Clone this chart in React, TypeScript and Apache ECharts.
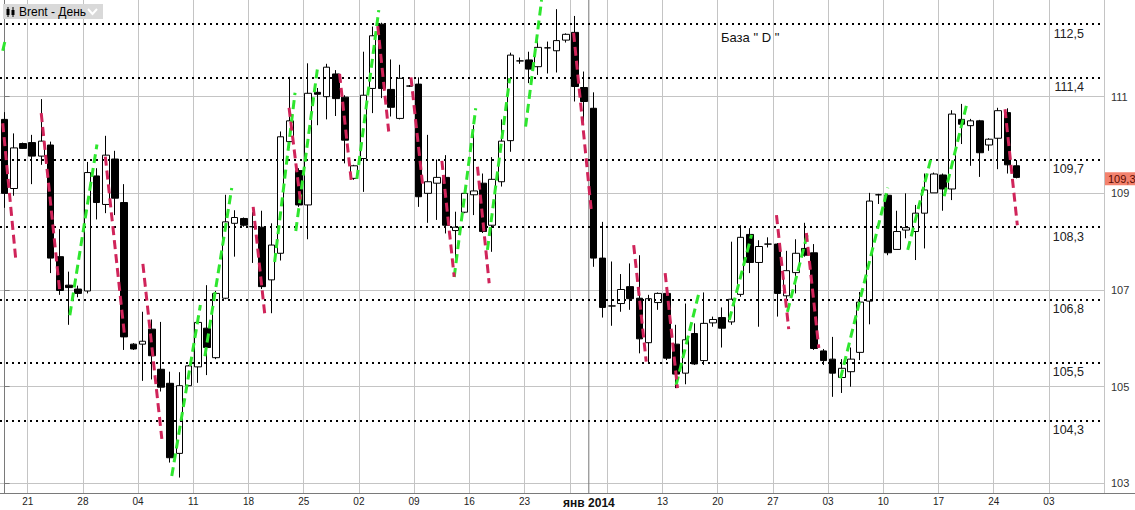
import React, { useEffect, useRef } from "react";
import * as echarts from "echarts";

// ---- slots (one per trading session) ----
const SLOT_COUNT = 120;
const Y_MIN = 102.79;
const Y_MAX = 113.0;

// week grid lines (slot where a new week / month begins)
const gridSlots = [3, 9, 15, 21, 27, 33, 39, 45, 51, 57, 62, 66, 72, 78, 84, 90, 96, 102, 108, 114];
const monthSlot = 64;
const tickSlots = [3, 9, 15, 21, 27, 33, 39, 45, 51, 57, 64, 72, 78, 84, 90, 96, 102, 108, 114];
const tickLabels = ["21", "28", "04", "11", "18", "25", "02", "09", "16", "23", "янв 2014", "13", "20", "27", "03", "10", "17", "24", "03"];

const yTicks = [103, 105, 107, 109, 111];

// ---- OHLC ----
const opens = [
  110.53, 109.10, 110.03, 110.05, 109.77, 110.00, 107.69, 107.10, 107.02, 106.98,
  109.36, 108.77, 109.71, 108.81, 105.88, 105.88, 106.19, 105.36, 105.07, 103.62,
  105.02, 105.41, 106.21, 105.60, 106.83, 108.38, 108.48, 108.31, 108.30, 107.21,
  107.76, 110.07, 109.47, 108.76, 111.09, 111.00, 111.47, 110.99, 109.31, 109.72,
  111.17, 112.50, 111.15, 110.55, 111.22, 111.26, 109.00, 109.21, 109.33, 108.23,
  108.61, 108.97, 109.21, 108.34, 109.24, 110.09, 111.74, 111.76, 111.62, 112.01,
  111.95, 112.17, 112.33, 111.19, 110.76, 107.66, 106.67, 106.72, 107.07, 106.83,
  105.91, 106.74, 106.93, 105.88, 105.28, 106.10, 105.54, 106.32, 106.43, 106.34,
  106.91, 108.15, 107.57, 107.95, 107.95, 106.88, 107.36, 107.86, 107.77, 105.74,
  105.57, 105.19, 105.31, 105.71, 106.77, 108.97, 108.96, 107.84, 108.24, 108.21,
  108.59, 109.01, 109.38, 109.09, 110.53, 110.40, 110.50, 110.00, 110.14, 110.67,
  109.57,
];
const closes = [
  109.00, 109.94, 109.93, 109.77, 110.08, 107.66, 106.99, 107.05, 106.93, 109.43,
  108.81, 109.79, 108.90, 106.03, 105.78, 105.94, 105.64, 104.99, 103.53, 105.02,
  105.43, 106.33, 105.81, 106.93, 108.41, 108.50, 108.34, 108.31, 107.07, 107.93,
  110.17, 110.50, 108.76, 111.07, 111.05, 111.61, 110.96, 110.10, 109.57, 111.03,
  112.26, 111.17, 110.78, 111.38, 111.22, 108.93, 109.24, 109.33, 108.34, 108.30,
  109.00, 109.05, 108.21, 109.29, 110.08, 111.86, 111.74, 111.57, 112.02, 112.01,
  112.16, 112.29, 111.21, 110.90, 107.66, 106.64, 106.67, 107.01, 106.82, 105.99,
  106.82, 106.93, 105.59, 105.26, 105.97, 105.47, 106.31, 106.39, 106.21, 106.81,
  108.09, 107.57, 107.90, 107.95, 106.93, 107.40, 107.76, 107.72, 105.79, 105.54,
  105.28, 105.38, 105.57, 106.75, 108.84, 108.97, 107.77, 108.21, 108.29, 108.59,
  109.07, 109.40, 109.09, 110.64, 110.43, 110.50, 109.84, 110.12, 110.71, 109.59,
  109.33,
];
const lows = [
  108.70, 108.95, 109.92, 109.19, 109.59, 107.35, 106.90, 106.28, 106.85, 106.93,
  108.46, 108.59, 108.55, 105.76, 105.76, 105.12, 105.15, 104.90, 103.43, 103.12,
  105.01, 105.08, 105.24, 105.57, 106.81, 107.69, 108.31, 107.56, 107.02, 106.52,
  107.61, 109.94, 108.72, 108.05, 110.41, 110.53, 110.60, 109.62, 109.28, 109.03,
  110.66, 110.97, 110.59, 110.53, 111.20, 108.72, 108.39, 108.45, 108.17, 107.62,
  108.59, 108.55, 108.18, 107.79, 109.14, 109.86, 111.68, 111.28, 111.45, 111.48,
  111.50, 112.12, 110.90, 110.41, 107.48, 106.43, 106.26, 106.55, 106.59, 105.69,
  105.50, 106.59, 105.55, 104.97, 105.05, 105.45, 105.45, 106.24, 105.81, 106.28,
  106.86, 107.35, 106.24, 107.88, 106.45, 106.79, 106.93, 107.69, 105.76, 105.45,
  104.79, 104.87, 105.00, 105.55, 106.29, 108.78, 107.72, 107.84, 108.07, 107.62,
  107.86, 109.01, 108.64, 108.86, 110.02, 109.57, 109.34, 109.88, 109.50, 109.41,
  109.31,
];
const highs = [
  110.68, 110.24, 110.05, 110.21, 110.95, 110.07, 108.26, 107.38, 107.09, 109.65,
  109.52, 110.19, 109.88, 109.19, 105.90, 106.55, 106.39, 106.34, 105.31, 105.30,
  105.45, 106.42, 107.10, 106.98, 108.97, 108.65, 108.50, 108.61, 108.64, 108.38,
  110.28, 111.41, 109.52, 111.69, 111.18, 111.68, 111.55, 111.03, 109.59, 111.93,
  112.45, 112.53, 111.77, 111.66, 111.24, 111.40, 110.21, 109.70, 109.79, 108.62,
  109.03, 110.41, 109.41, 109.75, 110.53, 111.91, 111.81, 111.93, 112.17, 112.14,
  112.81, 112.31, 112.67, 111.52, 111.09, 108.41, 107.59, 107.33, 107.55, 107.72,
  106.90, 106.95, 106.95, 106.28, 106.72, 106.31, 106.95, 106.45, 106.64, 108.00,
  108.34, 108.28, 108.03, 108.09, 107.97, 107.81, 108.05, 108.39, 107.95, 105.78,
  106.03, 105.57, 105.81, 106.96, 109.01, 108.99, 108.99, 108.64, 109.00, 108.76,
  109.41, 109.43, 109.41, 110.72, 110.85, 110.54, 110.52, 110.14, 110.77, 110.76,
  109.69,
];

// ---- horizontal levels ("База D") ----
const levels = [112.5, 111.4, 109.7, 108.3, 106.8, 105.5, 104.3];
const levelLabels = ["112,5", "111,4", "109,7", "108,3", "106,8", "105,5", "104,3"];
const lastPrice = 109.3;
const lastPriceLabel = "109,3";

// ---- dashed swing segments: [slotFrom, priceFrom, slotTo, priceTo] ----
const greenSegments = [
  [-0.2, 111.95, 0.1, 112.2],
  [7.09, 106.48, 10.04, 110.01],
  [18.17, 103.15, 21.28, 106.69],
  [21.77, 105.63, 24.69, 109.11],
  [29.35, 107.58, 31.57, 111.08],
  [31.65, 108.22, 34.06, 111.66],
  [38.29, 109.3, 40.67, 112.79],
  [48.87, 107.27, 51.21, 110.76],
  [52.48, 107.83, 54.9, 111.38],
  [56.63, 110.38, 58.37, 113.0],
  [72.99, 105.03, 75.42, 106.9],
  [78.77, 106.38, 81.19, 108.14],
  [85.09, 106.55, 87.33, 108.21],
  [90.86, 105.17, 96.0, 109.12],
  [98.17, 107.83, 100.69, 109.72],
  [102.13, 108.94, 104.59, 110.85],
];
const redSegments = [
  [-0.2, 110.45, 1.2, 107.66],
  [3.98, 110.66, 6.0, 106.96],
  [10.95, 109.76, 13.04, 106.05],
  [15.03, 107.54, 17.09, 103.92],
  [27.02, 108.72, 28.29, 106.48],
  [30.92, 110.77, 32.14, 108.87],
  [36.41, 111.47, 37.67, 109.28],
  [40.56, 112.46, 41.75, 110.28],
  [44.17, 111.4, 45.44, 109.17],
  [47.53, 109.67, 48.87, 107.27],
  [51.4, 109.55, 52.67, 107.14],
  [61.85, 112.32, 63.8, 108.59],
  [68.38, 107.93, 69.74, 105.52],
  [71.8, 107.35, 73.14, 104.97],
  [83.9, 108.55, 85.23, 106.19],
  [87.15, 108.18, 88.5, 105.8],
  [108.74, 110.74, 110.08, 108.34],
];

const FONT = "'Liberation Sans', Arial, sans-serif";

export default function App() {
  const ref = useRef<HTMLDivElement>(null);

  useEffect(() => {
    if (!ref.current) return;
    const chart = echarts.init(ref.current, undefined, { renderer: "svg" });

    const categories = Array.from({ length: SLOT_COUNT }, (_, i) => "s" + i);
    const labelMap = new Map<number, string>();
    tickSlots.forEach((s, i) => labelMap.set(s, tickLabels[i]));
    const gridSet = new Set(gridSlots);
    const candles = opens.map((o, i) => [o, closes[i], lows[i], highs[i]]);

    const segData = (segs: number[][]) =>
      segs.map((s) => ({ coords: [[s[0], s[1]], [s[2], s[3]]] }));

    const option: any = {
      animation: false,
      backgroundColor: "#ffffff",
      grid: { left: -4, right: 31, top: 0, bottom: 16.5, containLabel: false },
      xAxis: [
        {
          type: "category",
          data: categories,
          boundaryGap: true,
          axisLine: { show: true, onZero: false, lineStyle: { color: "#7a7a7a", width: 1 } },
          axisTick: { show: false },
          axisLabel: {
            interval: (i: number) => labelMap.has(i),
            formatter: (_v: string, i: number) => {
              const t = labelMap.get(i) || "";
              return i === monthSlot ? "{b|" + t + "}" : t;
            },
            margin: 3,
            fontSize: 10,
            fontFamily: FONT,
            color: "#222",
            padding: [0, 9, 0, 0],
            rich: { b: { fontWeight: "bold", fontSize: 12, fontFamily: FONT, color: "#111" } },
          },
          splitLine: {
            show: true,
            interval: (i: number) => gridSet.has(i),
            lineStyle: { color: "#c4c4c4", width: 1 },
          },
        },
        {
          type: "value",
          show: false,
          min: -0.5,
          max: SLOT_COUNT - 0.5,
          splitLine: { show: false },
        },
      ],
      yAxis: {
        type: "value",
        position: "right",
        min: Y_MIN,
        max: Y_MAX,
        axisLine: { show: true, lineStyle: { color: "#7a7a7a" } },
        axisTick: { show: true, length: 5, customValues: yTicks, lineStyle: { color: "#7a7a7a" } },
        axisLabel: {
          customValues: yTicks,
          margin: 7,
          fontSize: 11,
          fontFamily: FONT,
          color: "#333",
          formatter: (v: number) => String(v),
        },
        splitLine: { show: true, lineStyle: { color: "#c4c4c4", width: 1 } },
      },
      series: [
        {
          type: "line",
          xAxisIndex: 1,
          yAxisIndex: 0,
          data: [
            [monthSlot - 0.5, Y_MIN],
            [monthSlot - 0.5, Y_MAX],
          ],
          symbol: "none",
          lineStyle: { color: "#777", width: 1 },
          silent: true,
          z: 1,
        },
        {
          type: "candlestick",
          xAxisIndex: 0,
          yAxisIndex: 0,
          data: candles,
          barWidth: 7,
          itemStyle: {
            color: "#ffffff",
            color0: "#000000",
            borderColor: "#000000",
            borderColor0: "#000000",
            borderWidth: 1,
          },
          z: 3,
          markLine: {
            silent: true,
            symbol: "none",
            animation: false,
            data: levels.map((v, i) => ({
              yAxis: v,
              lineStyle: { type: [2, 4], color: "#000", width: 2, cap: "butt" },
              label: {
                show: true,
                position: "insideEndBottom",
                formatter: levelLabels[i],
                fontSize: 12.5,
                fontFamily: FONT,
                color: "#222",
                distance: 3,
                padding: [0, 17, 0, 0],
              },
            })),
          },
        },
        {
          type: "line",
          xAxisIndex: 1,
          yAxisIndex: 0,
          data: [[SLOT_COUNT - 0.5, lastPrice]],
          symbol: "none",
          showSymbol: false,
          lineStyle: { width: 0 },
          clip: false,
          silent: true,
          z: 20,
          endLabel: {
            show: true,
            formatter: lastPriceLabel,
            distance: 1,
            fontSize: 11,
            fontFamily: FONT,
            color: "#5a0a00",
            backgroundColor: "#f3826e",
            padding: [1, 3, 1, 3],
          },
        },
        {
          type: "lines",
          coordinateSystem: "cartesian2d",
          xAxisIndex: 1,
          yAxisIndex: 0,
          data: segData(greenSegments),
          lineStyle: { color: "#2ee62e", width: 3, type: [9, 5], opacity: 1, curveness: 0 },
          silent: true,
          z: 5,
        },
        {
          type: "lines",
          coordinateSystem: "cartesian2d",
          xAxisIndex: 1,
          yAxisIndex: 0,
          data: segData(redSegments),
          lineStyle: { color: "#d0245a", width: 3, type: [9, 5], opacity: 1, curveness: 0 },
          silent: true,
          z: 5,
        },
      ],
      graphic: [
        { type: "rect", shape: { x: 3, y: 4, width: 100, height: 15 }, style: { fill: "#d9d9d9" }, z: 100 },
        { type: "line", shape: { x1: 8, y1: 7, x2: 8, y2: 17 }, style: { stroke: "#000", lineWidth: 1 }, z: 101 },
        { type: "rect", shape: { x: 6.5, y: 9, width: 3, height: 6 }, style: { fill: "#000" }, z: 101 },
        { type: "line", shape: { x1: 13, y1: 7, x2: 13, y2: 17 }, style: { stroke: "#000", lineWidth: 1 }, z: 101 },
        { type: "rect", shape: { x: 11.5, y: 10, width: 3, height: 5 }, style: { fill: "#000" }, z: 101 },
        {
          type: "text",
          x: 19,
          y: 11.5,
          style: { text: "Brent - День", fontSize: 12, fontFamily: FONT, fill: "#000", verticalAlign: "middle" },
          z: 101,
        },
        {
          type: "polyline",
          shape: { points: [[88, 9], [92.5, 14], [97, 9]] },
          style: { stroke: "#ffffff", lineWidth: 2, fill: "none" },
          z: 101,
        },
        {
          type: "text",
          x: 721,
          y: 37,
          style: { text: 'База " D "', fontSize: 13, fontFamily: FONT, fill: "#111", verticalAlign: "middle" },
          z: 101,
        },
        { type: "line", shape: { x1: 1104, y1: 493.5, x2: 1135, y2: 493.5 }, style: { stroke: "#7a7a7a", lineWidth: 1 }, z: 101 },
      ],
    };

    chart.setOption(option);
    return () => chart.dispose();
  }, []);

  return (
    <div
      ref={ref}
      style={{ position: "absolute", left: 0, top: 0, width: 1135, height: 510, background: "#fff" }}
    />
  );
}
